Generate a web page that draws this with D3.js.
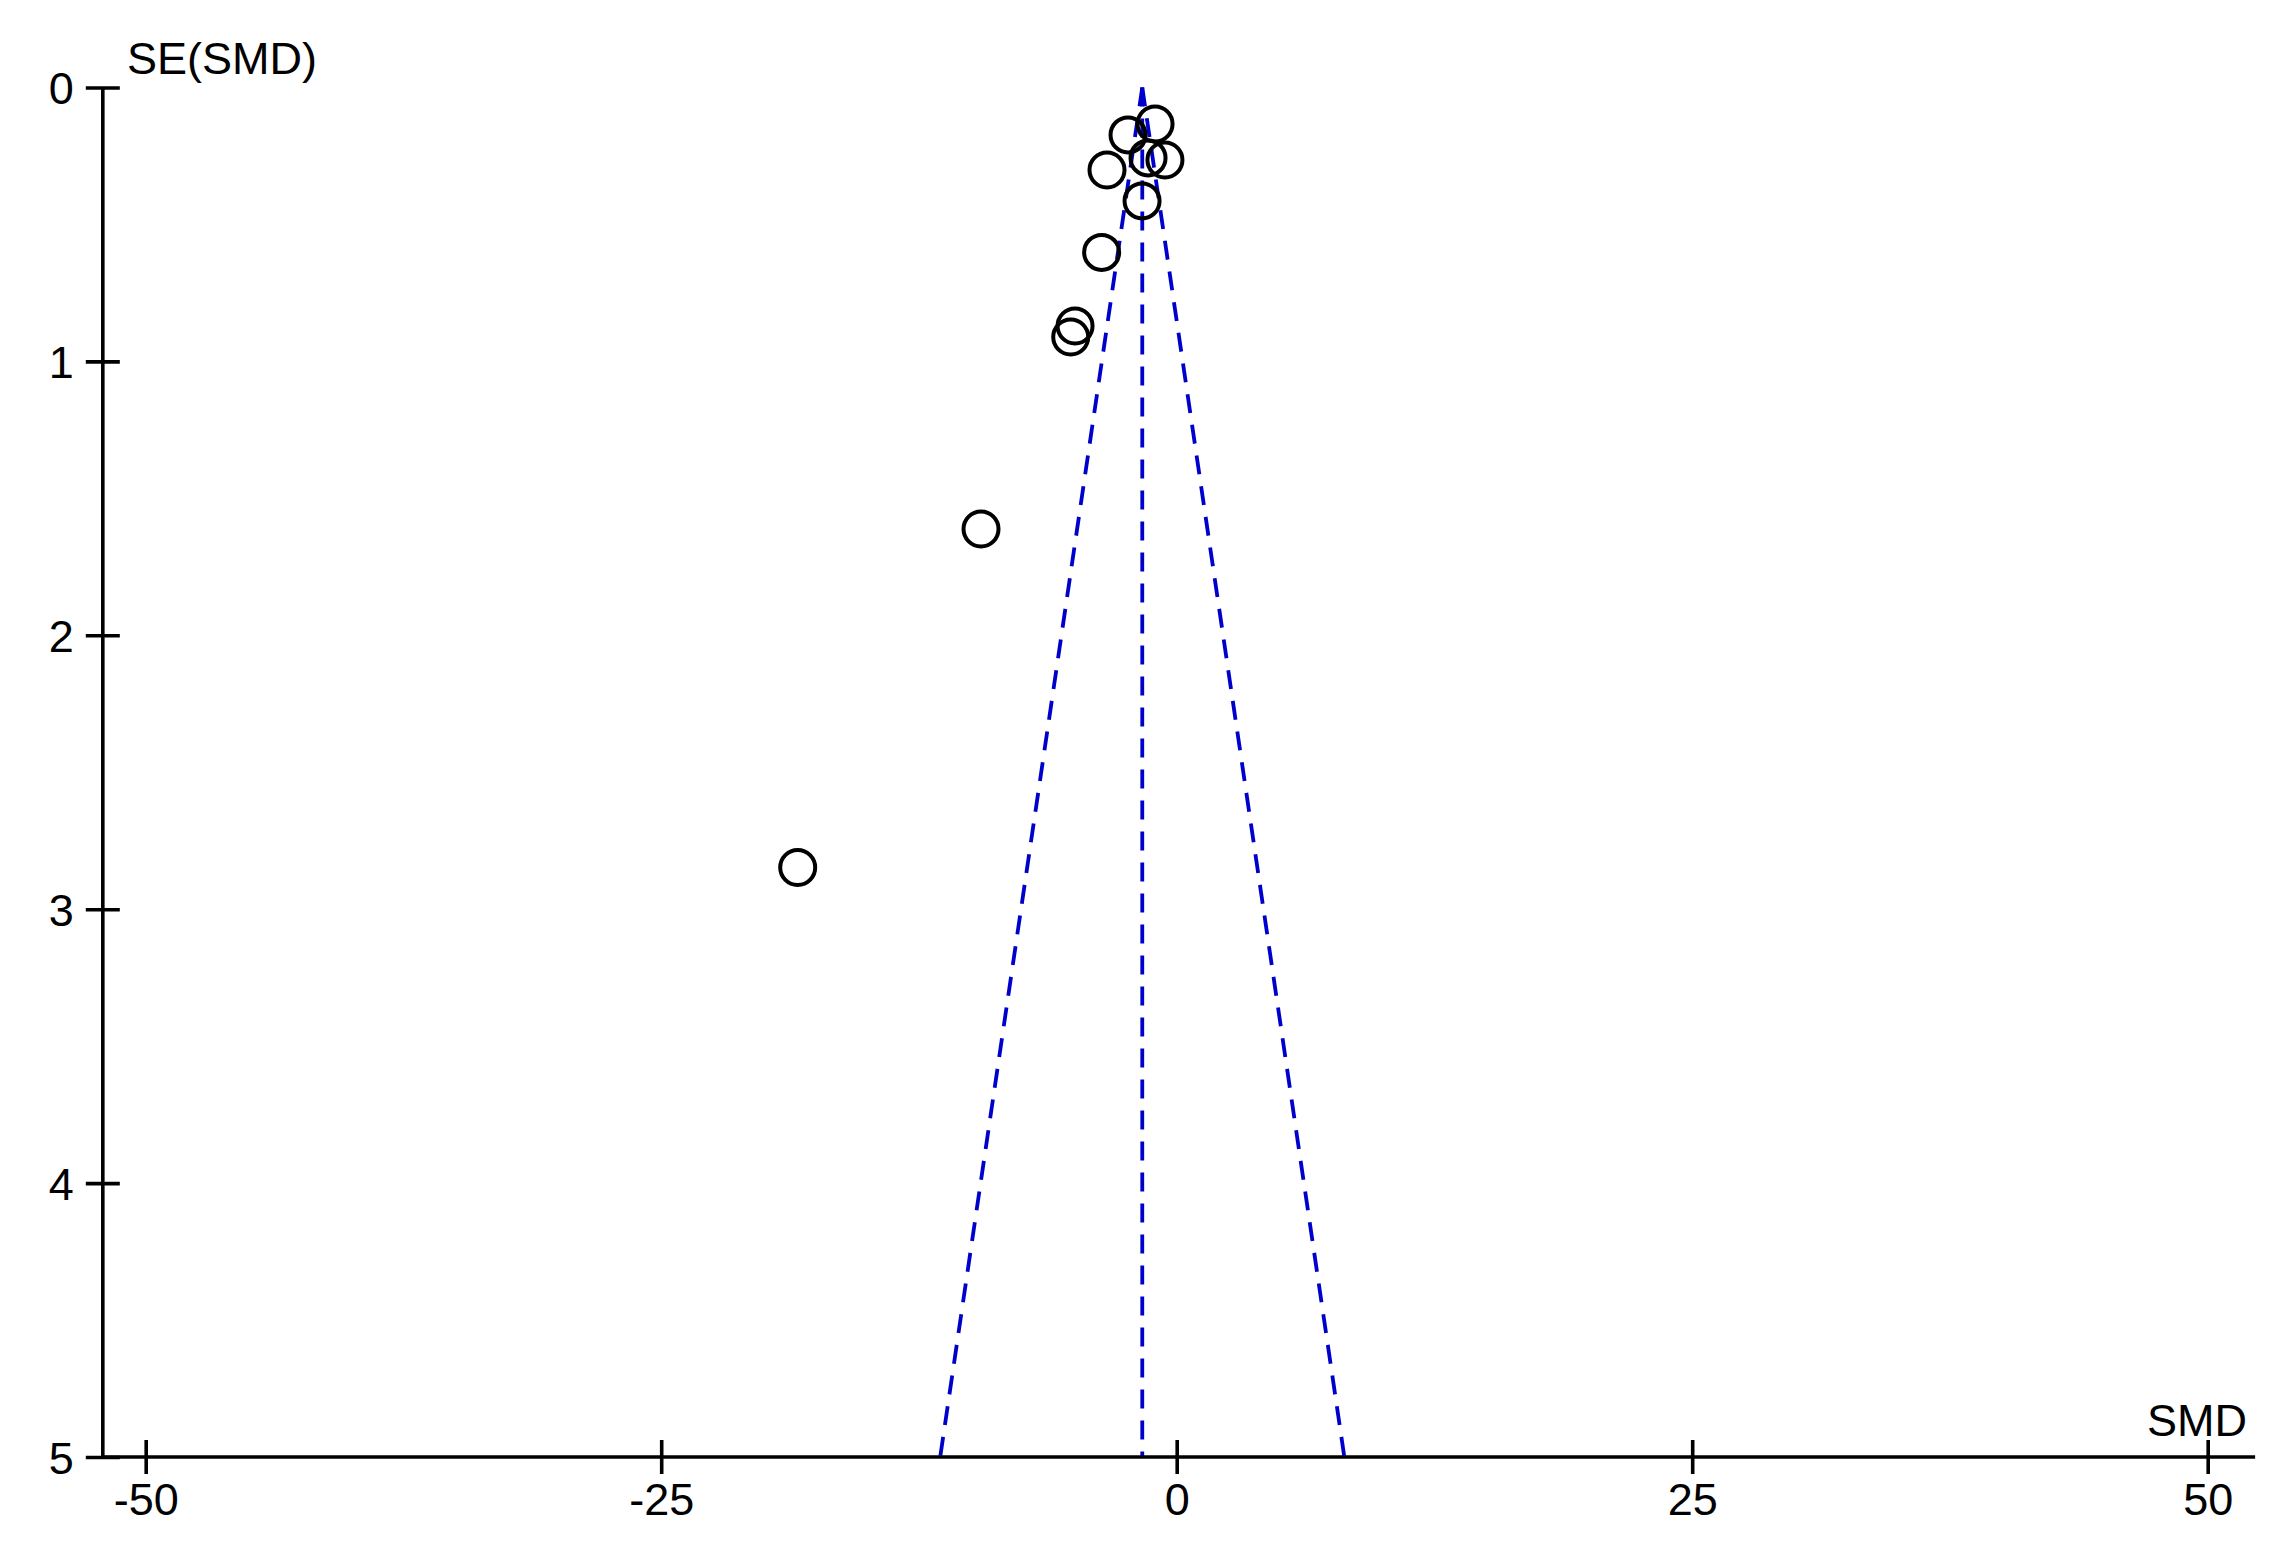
<!DOCTYPE html>
<html>
<head>
<meta charset="utf-8">
<script src="https://cdn.jsdelivr.net/npm/d3@7"></script>
<style>
  html, body { margin: 0; padding: 0; background: #fff; }
  svg text { font-family: "Liberation Sans", Arial, sans-serif; fill: #000; }
</style>
</head>
<body>
<svg id="chart" width="2291" height="1554"></svg>
<script>
// ---- data ----
const studySMD = [-1.05, -2.36, -1.39, -0.57, -3.38, -1.68, -3.64, -4.93, -5.14, -9.49, -18.38];
const studySE  = [0.133, 0.173, 0.257, 0.265, 0.301, 0.414, 0.602, 0.871, 0.911, 1.612, 2.848];
const pooledSMD = -1.67;
const xTicks = [-50, -25, 0, 25, 50];
const yTicks = [0, 1, 2, 3, 4, 5];
const xTitle = "SMD";
const yTitle = "SE(SMD)";

// ---- layout ----
const svg = d3.select("#chart");
const x = d3.scaleLinear().domain([-50, 50]).range([145.7, 2207.7]);
const y = d3.scaleLinear().domain([0, 5]).range([87.5, 1457]);
const xLineExtent = [-52.08, 52.3];
const tick = 17;
const axisW = 3.6;
const fontSize = 45;
const fmt = d => String(d);

// funnel lines
const blue = "#0000cc";
const dash = "19,12";
const funnel = [
  [[pooledSMD, 0], [pooledSMD - 1.96 * 5, 5]],
  [[pooledSMD, 0], [pooledSMD + 1.96 * 5, 5]],
  [[pooledSMD, 0], [pooledSMD, 5]]
];
const line = d3.line().x(d => x(d[0])).y(d => y(d[1]));
svg.append("g").selectAll("path").data(funnel).join("path")
  .attr("d", line)
  .attr("fill", "none")
  .attr("stroke", blue)
  .attr("stroke-width", 3.8)
  .attr("stroke-dasharray", dash);

// points
svg.append("g").selectAll("circle").data(studySMD.map((d, i) => [d, studySE[i]])).join("circle")
  .attr("cx", d => x(d[0]))
  .attr("cy", d => y(d[1]))
  .attr("r", 17.5)
  .attr("fill", "none")
  .attr("stroke", "#000")
  .attr("stroke-width", 4);

// x axis
const xAxisY = y(5);
const xAxisG = svg.append("g").attr("transform", `translate(0,${xAxisY})`)
  .call(d3.axisBottom(x).tickValues(xTicks).tickSize(tick).tickPadding(0).tickFormat(fmt));
xAxisG.select(".domain").remove();
xAxisG.selectAll(".tick line").attr("y1", -tick).attr("y2", tick).attr("stroke", "#000").attr("stroke-width", axisW);
xAxisG.selectAll(".tick text").attr("y", 58).attr("dy", null)
  .attr("font-size", fontSize).attr("font-family", "Liberation Sans, Arial, sans-serif").attr("fill", "#000");
xAxisG.append("line")
  .attr("x1", x(xLineExtent[0])).attr("x2", x(xLineExtent[1]))
  .attr("y1", 0).attr("y2", 0)
  .attr("stroke", "#000").attr("stroke-width", axisW);

// y axis
const yAxisX = x(xLineExtent[0]);
const yAxisG = svg.append("g").attr("transform", `translate(${yAxisX},0)`)
  .call(d3.axisLeft(y).tickValues(yTicks).tickSize(tick).tickPadding(0).tickFormat(fmt));
yAxisG.select(".domain").remove();
yAxisG.selectAll(".tick line").attr("x1", -tick).attr("x2", tick).attr("stroke", "#000").attr("stroke-width", axisW);
yAxisG.selectAll(".tick text").attr("x", -29).attr("dy", "0.36em")
  .attr("font-size", fontSize).attr("font-family", "Liberation Sans, Arial, sans-serif").attr("fill", "#000");
yAxisG.append("line")
  .attr("x1", 0).attr("x2", 0)
  .attr("y1", y(0)).attr("y2", y(5))
  .attr("stroke", "#000").attr("stroke-width", axisW);

// titles
svg.append("text").attr("x", 127).attr("y", 74).attr("font-size", fontSize).text(yTitle);
svg.append("text").attr("x", 2247).attr("y", 1436).attr("text-anchor", "end").attr("font-size", fontSize).text(xTitle);
</script>
</body>
</html>
